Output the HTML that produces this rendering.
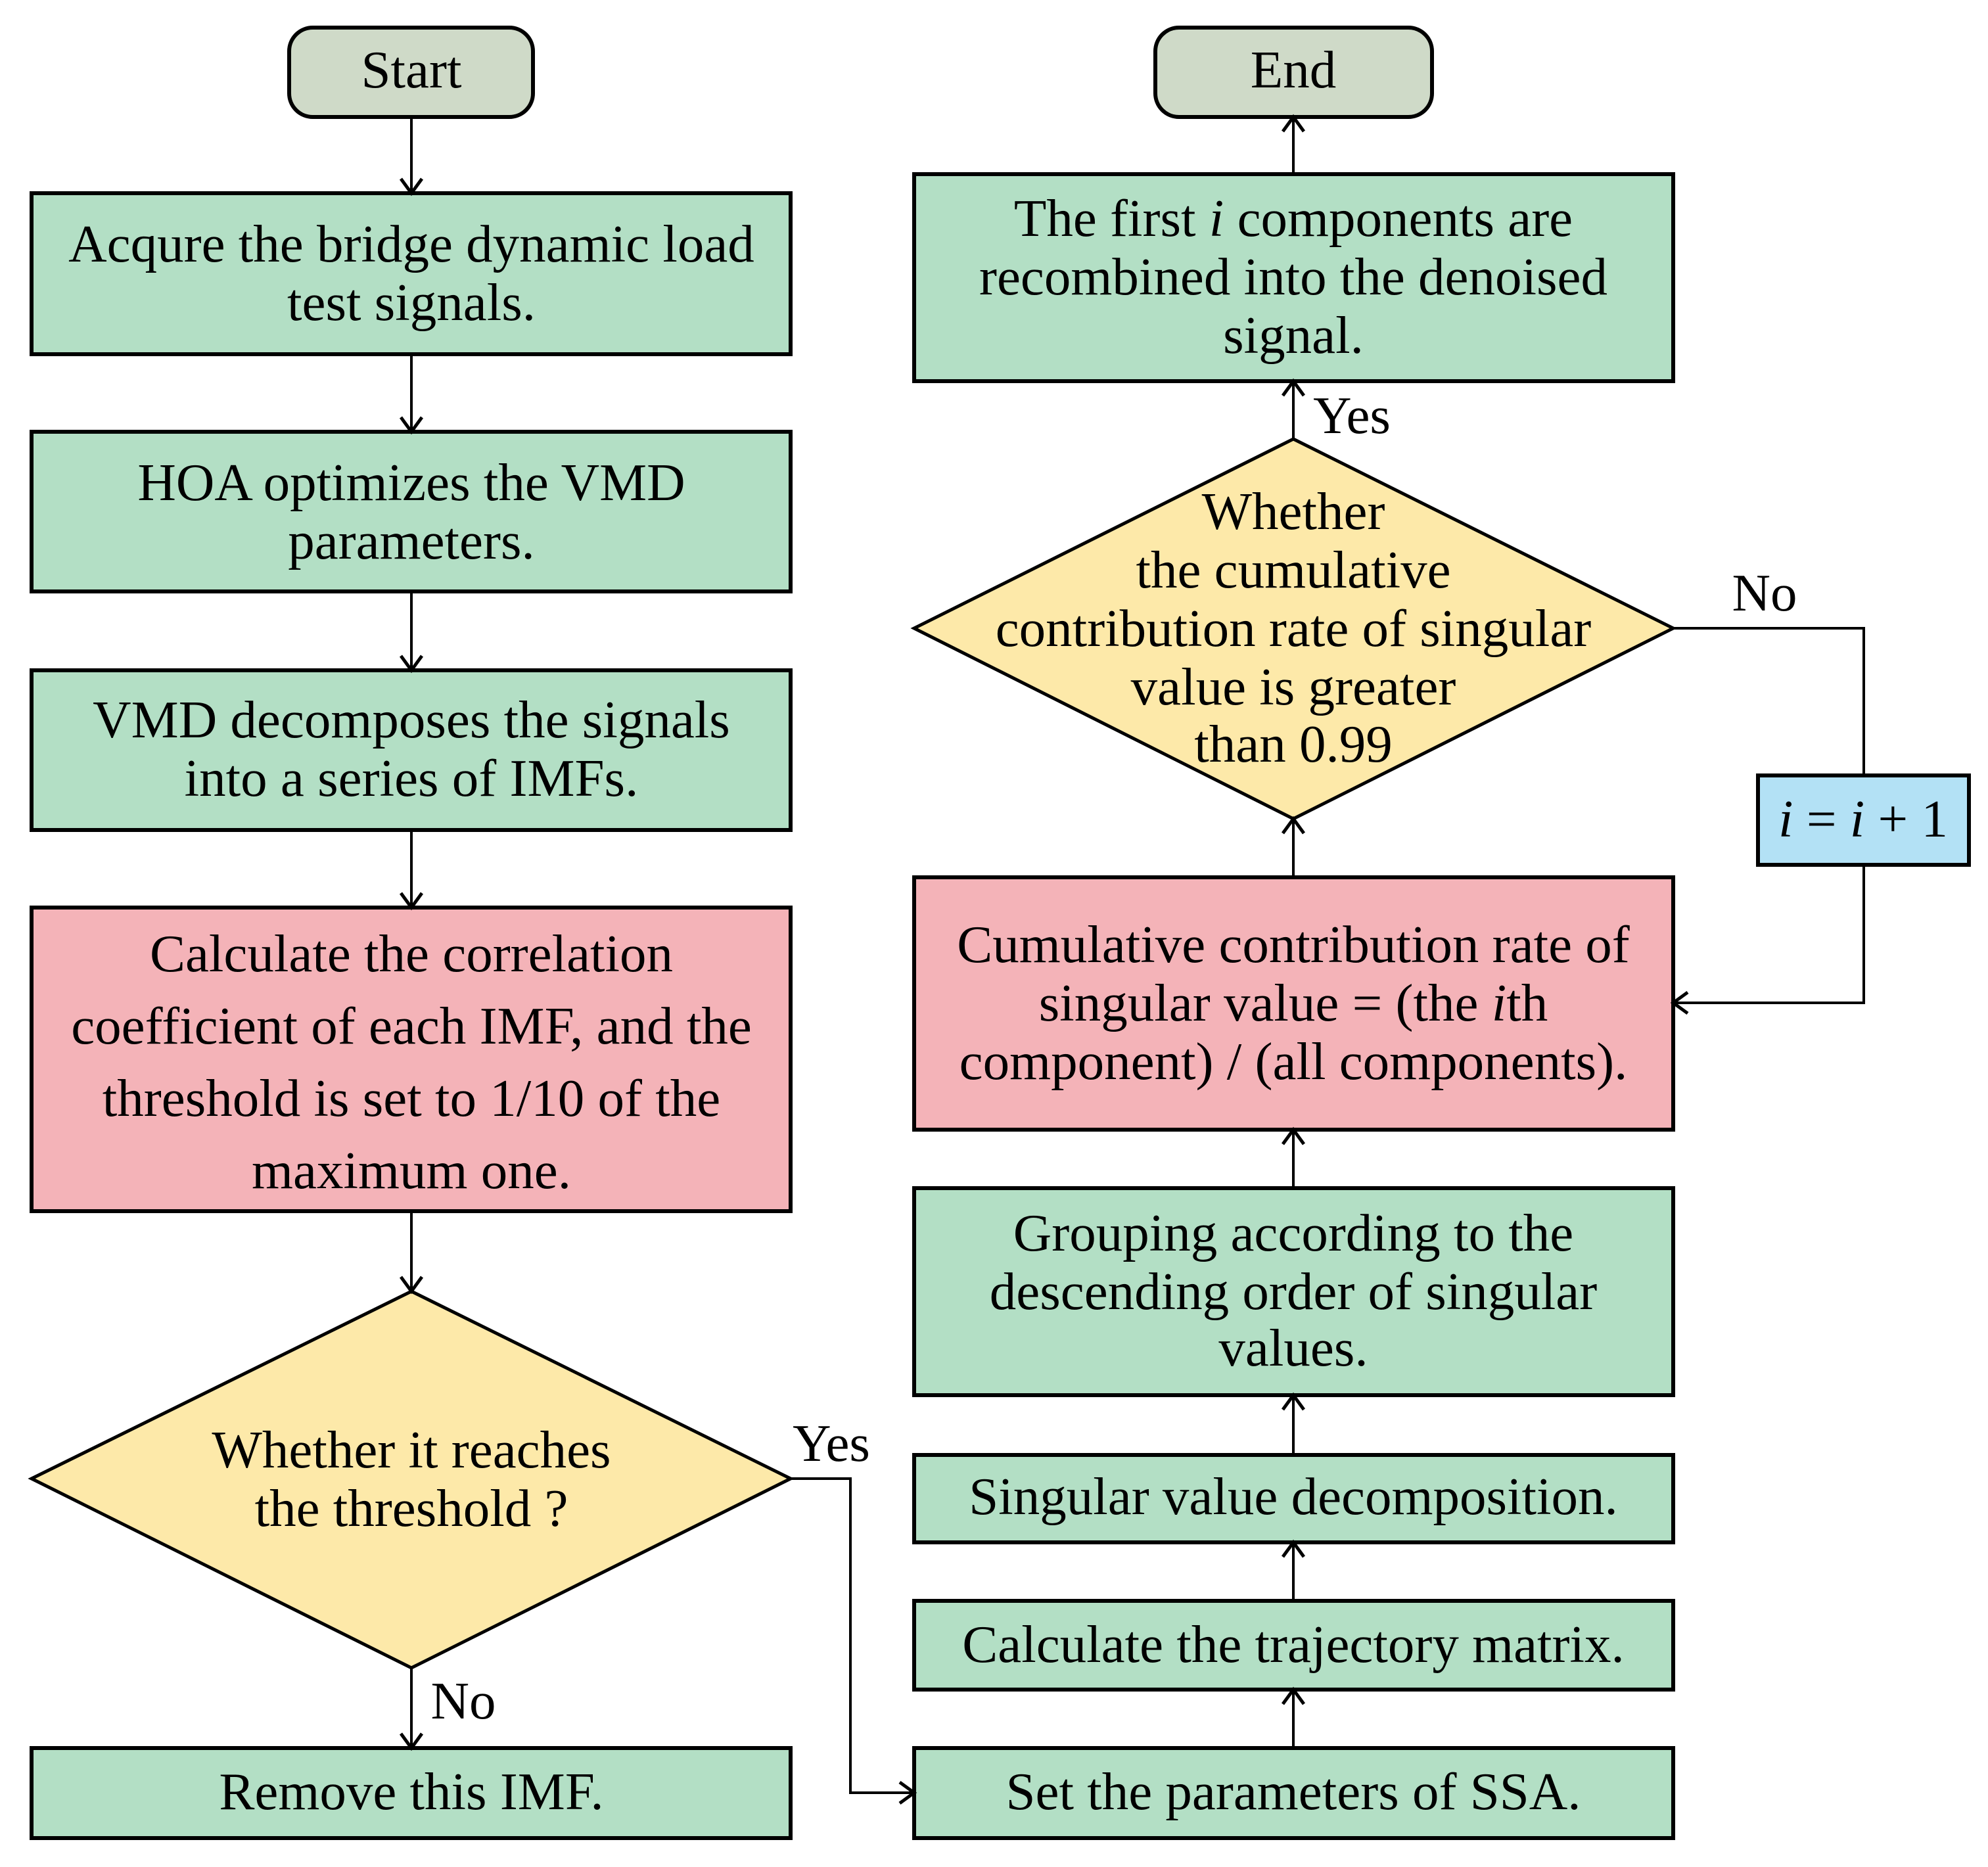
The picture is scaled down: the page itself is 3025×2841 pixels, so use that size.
<!DOCTYPE html>
<html><head><meta charset="utf-8"><style>html,body{margin:0;padding:0;background:#fff}svg{display:block}</style></head>
<body>
<svg xmlns="http://www.w3.org/2000/svg" width="3025" height="2841" viewBox="0 0 3025 2841">
<defs>
<marker id="a" markerUnits="userSpaceOnUse" markerWidth="60" markerHeight="60" refX="30" refY="30" orient="auto">
<path d="M8,14 L30,30 L8,46" fill="none" stroke="#000" stroke-width="5"/>
</marker>
</defs>
<g stroke="#000" stroke-width="6">
<rect x="440" y="42" width="371" height="136" rx="36" fill="#cfdac8"/>
<rect x="1758" y="42" width="421" height="136" rx="36" fill="#cfdac8"/>
<rect x="48" y="294" width="1155" height="245" fill="#b3dfc5"/>
<rect x="48" y="657" width="1155" height="243" fill="#b3dfc5"/>
<rect x="48" y="1020" width="1155" height="243" fill="#b3dfc5"/>
<rect x="48" y="1381" width="1155" height="462" fill="#f4b3b8"/>
<polygon points="626,1965 1203,2250 626,2538 48,2250" fill="#fde9a9" stroke-width="5"/>
<rect x="48" y="2660" width="1155" height="137" fill="#b3dfc5"/>
<rect x="1391" y="265" width="1155" height="315" fill="#b3dfc5"/>
<polygon points="1968,668 2546,956 1968,1246 1391,956" fill="#fde9a9" stroke-width="5"/>
<rect x="1391" y="1335" width="1155" height="384" fill="#f4b3b8"/>
<rect x="1391" y="1808" width="1155" height="315" fill="#b3dfc5"/>
<rect x="1391" y="2214" width="1155" height="133" fill="#b3dfc5"/>
<rect x="1391" y="2436" width="1155" height="135" fill="#b3dfc5"/>
<rect x="1391" y="2660" width="1155" height="137" fill="#b3dfc5"/>
<rect x="2675" y="1180" width="321" height="136" fill="#b3e1f5"/>
</g>
<g stroke="#000" stroke-width="4" fill="none" marker-end="url(#a)">
<line x1="626" y1="178" x2="626" y2="294"/>
<line x1="626" y1="539" x2="626" y2="657"/>
<line x1="626" y1="900" x2="626" y2="1020"/>
<line x1="626" y1="1263" x2="626" y2="1381"/>
<line x1="626" y1="1843" x2="626" y2="1965"/>
<line x1="626" y1="2538" x2="626" y2="2660"/>
<polyline points="1203,2250 1294,2250 1294,2728 1391,2728"/>
<line x1="1968" y1="2660" x2="1968" y2="2571"/>
<line x1="1968" y1="2436" x2="1968" y2="2347"/>
<line x1="1968" y1="2214" x2="1968" y2="2123"/>
<line x1="1968" y1="1808" x2="1968" y2="1719"/>
<line x1="1968" y1="1335" x2="1968" y2="1246"/>
<line x1="1968" y1="668" x2="1968" y2="580"/>
<line x1="1968" y1="265" x2="1968" y2="178"/>
<polyline points="2836,1316 2836,1526 2546,1526"/>
</g>
<polyline points="2546,956 2836,956 2836,1180" stroke="#000" stroke-width="4" fill="none"/>
<g font-family="'Liberation Serif', serif" font-size="81" text-anchor="middle" dominant-baseline="central" fill="#000">
<text x="626" y="106">Start</text>
<text x="1968" y="106">End</text>
<text x="626" y="371">Acqure the bridge dynamic load</text>
<text x="626" y="460">test signals.</text>
<text x="626" y="734">HOA optimizes the VMD</text>
<text x="626" y="823">parameters.</text>
<text x="626" y="1095">VMD decomposes the signals</text>
<text x="626" y="1184">into a series of IMFs.</text>
<text x="626" y="1451">Calculate the correlation</text>
<text x="626" y="1561">coefficient of each IMF, and the</text>
<text x="626" y="1671">threshold is set to 1/10 of the</text>
<text x="626" y="1781">maximum one.</text>
<text x="626" y="2206">Whether it reaches</text>
<text x="626" y="2295">the threshold ?</text>
<text x="626" y="2726">Remove this IMF.</text>
<text x="1968" y="332">The first <tspan font-style="italic">i</tspan> components are</text>
<text x="1968" y="421">recombined into the denoised</text>
<text x="1968" y="510">signal.</text>
<text x="1968" y="778">Whether</text>
<text x="1968" y="867">the cumulative</text>
<text x="1968" y="956">contribution rate of singular</text>
<text x="1968" y="1045">value is greater</text>
<text x="1968" y="1132">than 0.99</text>
<text x="1968" y="1437">Cumulative contribution rate of</text>
<text x="1968" y="1526">singular value = (the <tspan font-style="italic">i</tspan>th</text>
<text x="1968" y="1615">component) / (all components).</text>
<text x="1968" y="1876">Grouping according to the</text>
<text x="1968" y="1965">descending order of singular</text>
<text x="1968" y="2051">values.</text>
<text x="1968" y="2277">Singular value decomposition.</text>
<text x="1968" y="2502">Calculate the trajectory matrix.</text>
<text x="1968" y="2726">Set the parameters of SSA.</text>
<text x="2835" y="1246"><tspan font-style="italic">i</tspan> = <tspan font-style="italic">i</tspan> + 1</text>
<text x="1265" y="2196">Yes</text>
<text x="705" y="2588">No</text>
<text x="2057" y="632">Yes</text>
<text x="2685" y="902">No</text>
</g>
</svg>
</body></html>
